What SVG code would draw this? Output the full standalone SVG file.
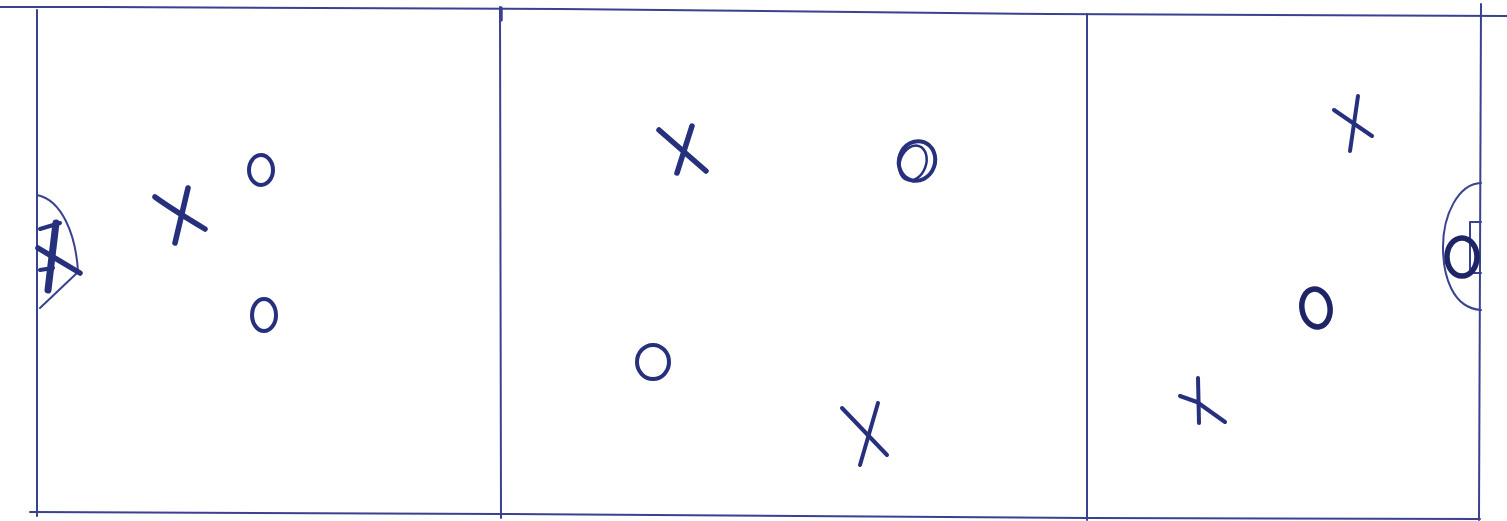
<svg xmlns="http://www.w3.org/2000/svg" width="1507" height="521" viewBox="0 0 1507 521">
<style>
.ln{fill:none;stroke:#3a4190;stroke-width:2;stroke-linecap:round;stroke-linejoin:round}
.x{fill:none;stroke:#26307c;stroke-width:5.5;stroke-linecap:round;stroke-linejoin:round}
.xt{fill:none;stroke:#26307c;stroke-width:4;stroke-linecap:round;stroke-linejoin:round}
.o{fill:none;stroke:#26307c;stroke-width:4}
.ob{fill:none;stroke:#1f2466;stroke-width:5.5}
</style>
<rect width="1507" height="521" fill="#ffffff"/>
<g id="field">
<polyline class="ln" points="0,7 100,7 560,9 1050,14 1507,16"/>
<polyline class="ln" points="30,512 500,514 1087,518 1480,519"/>
<line class="ln" x1="37" y1="10" x2="37" y2="516"/>
<line class="ln" x1="500" y1="7" x2="501" y2="518"/>
<line class="ln" x1="501" y1="8" x2="501" y2="20" style="stroke-width:3.5"/>
<line class="ln" x1="1087" y1="14" x2="1087" y2="520"/>
<line class="ln" x1="1481" y1="4" x2="1479" y2="520"/>
</g>
<g id="left-crease">
<path class="ln" d="M37,195 C62,200 76,235 78,272 L40,308"/>
</g>
<g id="right-crease">
<path class="ln" d="M1481,183 C1458,184 1443,215 1443,247 C1443,275 1452,308 1481,310"/>
<polyline class="ln" points="1481,222 1470,222 1470,273 1481,273"/>
</g>
<g id="left-goalie-x">
<path class="x" d="M56,223 L48,290" style="stroke-width:7"/>
<path class="x" d="M38,248 L80,273"/>
<path class="xt" d="M40,229 L60,223"/>
<path class="xt" d="M40,270 L53,268"/>
</g>
<g id="left-x">
<path class="x" d="M155,197 C170,208 190,220 205,229"/>
<path class="x" d="M188,188 L175,243"/>
</g>
<g id="left-o-top"><ellipse class="o" cx="261" cy="170" rx="12" ry="15"/></g>
<g id="left-o-bottom"><ellipse class="o" cx="264" cy="315" rx="12" ry="16"/></g>
<g id="mid-x-top">
<path class="x" d="M659,130 L706,171"/>
<path class="x" d="M692,126 L677,173"/>
</g>
<g id="mid-o-top"><ellipse class="o" cx="917" cy="161" rx="18" ry="20" transform="rotate(20 917 161)"/><ellipse class="o" cx="913" cy="163" rx="13" ry="18" transform="rotate(20 913 163)" style="stroke-width:2.5"/></g>
<g id="mid-o-bottom"><ellipse class="o" cx="653" cy="362" rx="16" ry="17"/></g>
<g id="mid-x-bottom">
<path class="xt" d="M842,408 L887,455"/>
<path class="xt" d="M878,403 L860,465"/>
</g>
<g id="right-x-top">
<path class="xt" d="M1334,110 L1372,136"/>
<path class="xt" d="M1358,96 L1350,151"/>
</g>
<g id="right-o"><ellipse class="ob" cx="1316" cy="308" rx="14" ry="19" transform="rotate(-10 1316 308)"/></g>
<g id="right-x-bottom">
<path class="xt" d="M1180,396 L1197,402 L1225,422"/>
<path class="xt" d="M1198,378 L1199,423"/>
</g>
<g id="right-goalie-o"><ellipse class="ob" cx="1462" cy="257" rx="15" ry="19"/></g>
<g id="connectors"/>
</svg>
